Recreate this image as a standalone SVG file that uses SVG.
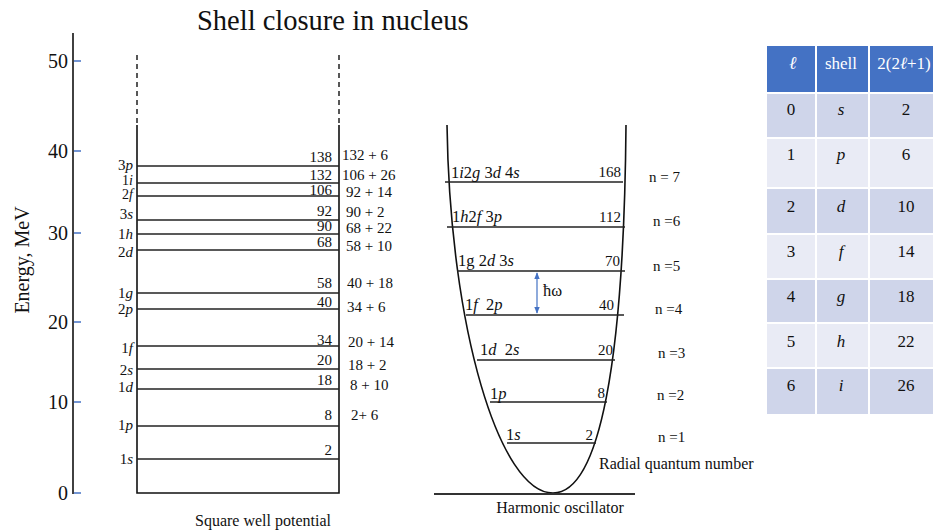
<svg xmlns="http://www.w3.org/2000/svg" width="933" height="531" viewBox="0 0 933 531">
<style>
text{font-family:"Liberation Serif","Times New Roman",serif;fill:#111}
.t15{font-size:15px}
.t16{font-size:16.5px}
.cap{font-size:16px}
.ax{font-size:20px}
.i{font-style:italic}
.lv{stroke:#222;stroke-width:1.5;fill:none}
.wall{stroke:#111;stroke-width:1.6;fill:none}
.dash{stroke:#111;stroke-width:1.4;stroke-dasharray:5 4;fill:none}
.tick{stroke:#4472C4;stroke-width:1.5}
.hd{fill:#4472C4}
.b1{fill:#CFD5EA}
.b2{fill:#E9EBF5}
.tb{font-size:17px;text-anchor:middle}
.th{font-size:17px;text-anchor:middle;fill:#fff}
.e{text-anchor:end}
</style>
<defs>
<marker id="ah" viewBox="0 0 10 10" refX="9" refY="5" markerWidth="7" markerHeight="7" orient="auto-start-reverse" markerUnits="userSpaceOnUse">
<path d="M0,1 L10,5 L0,9 Z" fill="#4472C4"/>
</marker>
</defs>
<rect width="933" height="531" fill="#fff"/>
<text x="197" y="30" style="font-size:28.5px">Shell closure in nucleus</text>

<g id="axis">
<line x1="73" y1="33" x2="73" y2="494" stroke="#111" stroke-width="1.6"/>
<line class="tick" x1="74" y1="61" x2="81" y2="61"/>
<line class="tick" x1="74" y1="151" x2="81" y2="151"/>
<line class="tick" x1="74" y1="233" x2="81" y2="233"/>
<line class="tick" x1="74" y1="322" x2="81" y2="322"/>
<line class="tick" x1="74" y1="402" x2="81" y2="402"/>
<line class="tick" x1="74" y1="493" x2="81" y2="493"/>
<text class="ax e" x="68" y="68">50</text>
<text class="ax e" x="68" y="158">40</text>
<text class="ax e" x="68" y="240">30</text>
<text class="ax e" x="68" y="329">20</text>
<text class="ax e" x="68" y="409">10</text>
<text class="ax e" x="68" y="500">0</text>
<text class="ax" transform="translate(29,260) rotate(-90)" text-anchor="middle">Energy, MeV</text>
</g>

<g id="square-well">
<line class="dash" x1="137" y1="55" x2="137" y2="124"/>
<line class="dash" x1="339" y1="55" x2="339" y2="124"/>
<path class="wall" d="M137,125 V493 H339 V125"/>
<g class="lv">
<line x1="137" y1="166" x2="339" y2="166"/>
<line x1="137" y1="183" x2="339" y2="183"/>
<line x1="137" y1="196" x2="339" y2="196"/>
<line x1="137" y1="220" x2="339" y2="220"/>
<line x1="137" y1="234" x2="339" y2="234"/>
<line x1="137" y1="250" x2="339" y2="250"/>
<line x1="137" y1="293" x2="339" y2="293"/>
<line x1="137" y1="309" x2="339" y2="309"/>
<line x1="137" y1="346" x2="339" y2="346"/>
<line x1="137" y1="369" x2="339" y2="369"/>
<line x1="137" y1="389" x2="339" y2="389"/>
<line x1="137" y1="426" x2="339" y2="426"/>
<line x1="137" y1="459" x2="339" y2="459"/>
</g>
<g class="t15 e">
<text x="133" y="170">3<tspan class="i">p</tspan></text>
<text x="133" y="185" style="font-size:14px">1<tspan class="i">i</tspan></text>
<text x="133" y="199" style="font-size:14px">2<tspan class="i">f</tspan></text>
<text x="133" y="219">3<tspan class="i">s</tspan></text>
<text x="133" y="239">1<tspan class="i">h</tspan></text>
<text x="133" y="257">2<tspan class="i">d</tspan></text>
<text x="133" y="298">1<tspan class="i">g</tspan></text>
<text x="133" y="314">2<tspan class="i">p</tspan></text>
<text x="133" y="353">1<tspan class="i">f</tspan></text>
<text x="133" y="375">2<tspan class="i">s</tspan></text>
<text x="133" y="392">1<tspan class="i">d</tspan></text>
<text x="133" y="430">1<tspan class="i">p</tspan></text>
<text x="133" y="464">1<tspan class="i">s</tspan></text>
</g>
<g class="t15 e">
<text x="332" y="162">138</text>
<text x="332" y="180">132</text>
<text x="332" y="195">106</text>
<text x="332" y="216">92</text>
<text x="332" y="231">90</text>
<text x="332" y="247">68</text>
<text x="332" y="288">58</text>
<text x="332" y="307">40</text>
<text x="332" y="345">34</text>
<text x="332" y="365">20</text>
<text x="332" y="385">18</text>
<text x="332" y="420">8</text>
<text x="332" y="455">2</text>
</g>
<g class="t15">
<text x="342" y="160">132 + 6</text>
<text x="342" y="180">106 + 26</text>
<text x="346" y="197">92 + 14</text>
<text x="346" y="217">90 + 2</text>
<text x="346" y="233">68 + 22</text>
<text x="346" y="251">58 + 10</text>
<text x="347" y="288">40 + 18</text>
<text x="347" y="312">34 + 6</text>
<text x="348" y="347">20 + 14</text>
<text x="348" y="370">18 + 2</text>
<text x="350" y="390">8 + 10</text>
<text x="351" y="420">2+ 6</text>
</g>
<text class="cap" x="263" y="526" text-anchor="middle">Square well potential</text>
</g>

<g id="harmonic-oscillator">
<path class="wall" d="M447,125 C450,330 500,493 553,493 C600,493 624,360 626,125"/>
<line class="wall" x1="434" y1="494" x2="635" y2="494" style="stroke:#333;stroke-width:2"/>
<g class="lv">
<line x1="445" y1="182" x2="623" y2="182"/>
<line x1="447" y1="227" x2="625" y2="227"/>
<line x1="457" y1="271" x2="625" y2="271"/>
<line x1="466" y1="315" x2="624" y2="315"/>
<line x1="477" y1="360" x2="615" y2="360"/>
<line x1="490" y1="402" x2="607" y2="402"/>
<line x1="507" y1="443" x2="596" y2="443"/>
</g>
<g class="t16">
<text x="451" y="178">1<tspan class="i">i</tspan>2<tspan class="i">g</tspan> 3<tspan class="i">d</tspan> 4<tspan class="i">s</tspan></text>
<text x="452" y="222">1<tspan class="i">h</tspan>2<tspan class="i">f</tspan> 3<tspan class="i">p</tspan></text>
<text x="458" y="266">1g 2<tspan class="i">d</tspan> 3<tspan class="i">s</tspan></text>
<text x="465" y="310" xml:space="preserve">1<tspan class="i">f</tspan>  2<tspan class="i">p</tspan></text>
<text x="480" y="355" xml:space="preserve">1<tspan class="i">d</tspan>  2<tspan class="i">s</tspan></text>
<text x="490" y="399">1<tspan class="i">p</tspan></text>
<text x="506" y="440">1<tspan class="i">s</tspan></text>
</g>
<g class="t15 e">
<text x="621" y="177">168</text>
<text x="621" y="222">112</text>
<text x="620" y="266">70</text>
<text x="614" y="310">40</text>
<text x="613" y="355">20</text>
<text x="605" y="398">8</text>
<text x="593" y="440">2</text>
</g>
<line x1="537" y1="273" x2="537" y2="313" stroke="#4472C4" stroke-width="1.2" marker-start="url(#ah)" marker-end="url(#ah)"/>
<text class="t16" x="543" y="296">ħω</text>
<g class="t15">
<text x="649" y="182">n = 7</text>
<text x="653" y="226">n =6</text>
<text x="653" y="271">n =5</text>
<text x="655" y="314">n =4</text>
<text x="658" y="358">n =3</text>
<text x="657" y="400">n =2</text>
<text x="658" y="442">n =1</text>
</g>
<text class="cap" x="599" y="469">Radial quantum number</text>
<text class="cap" x="560" y="513" text-anchor="middle">Harmonic oscillator</text>
</g>

<g id="table">
<rect class="hd" x="767" y="46" width="48" height="46"/>
<rect class="hd" x="817" y="46" width="51" height="46"/>
<rect class="hd" x="870" y="46" width="63" height="46"/>
<rect class="b1" x="767" y="94" width="48" height="43"/>
<rect class="b1" x="817" y="94" width="51" height="43"/>
<rect class="b1" x="870" y="94" width="63" height="43"/>
<rect class="b2" x="767" y="139" width="48" height="48"/>
<rect class="b2" x="817" y="139" width="51" height="48"/>
<rect class="b2" x="870" y="139" width="63" height="48"/>
<rect class="b1" x="767" y="189" width="48" height="44"/>
<rect class="b1" x="817" y="189" width="51" height="44"/>
<rect class="b1" x="870" y="189" width="63" height="44"/>
<rect class="b2" x="767" y="235" width="48" height="43"/>
<rect class="b2" x="817" y="235" width="51" height="43"/>
<rect class="b2" x="870" y="235" width="63" height="43"/>
<rect class="b1" x="767" y="280" width="48" height="42"/>
<rect class="b1" x="817" y="280" width="51" height="42"/>
<rect class="b1" x="870" y="280" width="63" height="42"/>
<rect class="b2" x="767" y="324" width="48" height="43"/>
<rect class="b2" x="817" y="324" width="51" height="43"/>
<rect class="b2" x="870" y="324" width="63" height="43"/>
<rect class="b1" x="767" y="369" width="48" height="45"/>
<rect class="b1" x="817" y="369" width="51" height="45"/>
<rect class="b1" x="870" y="369" width="63" height="45"/>
<text class="th" x="793" y="69" style="font-weight:bold;font-style:italic;font-size:18px">ℓ</text>
<text class="th" x="841" y="69">shell</text>
<text class="th" x="904" y="69">2(2<tspan class="i">ℓ</tspan>+1)</text>
<g class="tb">
<text x="791" y="115">0</text><text x="841" y="115" class="i">s</text><text x="906" y="115">2</text>
<text x="791" y="160">1</text><text x="841" y="160" class="i">p</text><text x="906" y="160">6</text>
<text x="791" y="212">2</text><text x="841" y="212" class="i">d</text><text x="906" y="212">10</text>
<text x="791" y="257">3</text><text x="841" y="257" class="i">f</text><text x="906" y="257">14</text>
<text x="791" y="302">4</text><text x="841" y="302" class="i">g</text><text x="906" y="302">18</text>
<text x="791" y="347">5</text><text x="841" y="347" class="i">h</text><text x="906" y="347">22</text>
<text x="791" y="391">6</text><text x="841" y="391" class="i">i</text><text x="906" y="391">26</text>
</g>
</g>
</svg>
